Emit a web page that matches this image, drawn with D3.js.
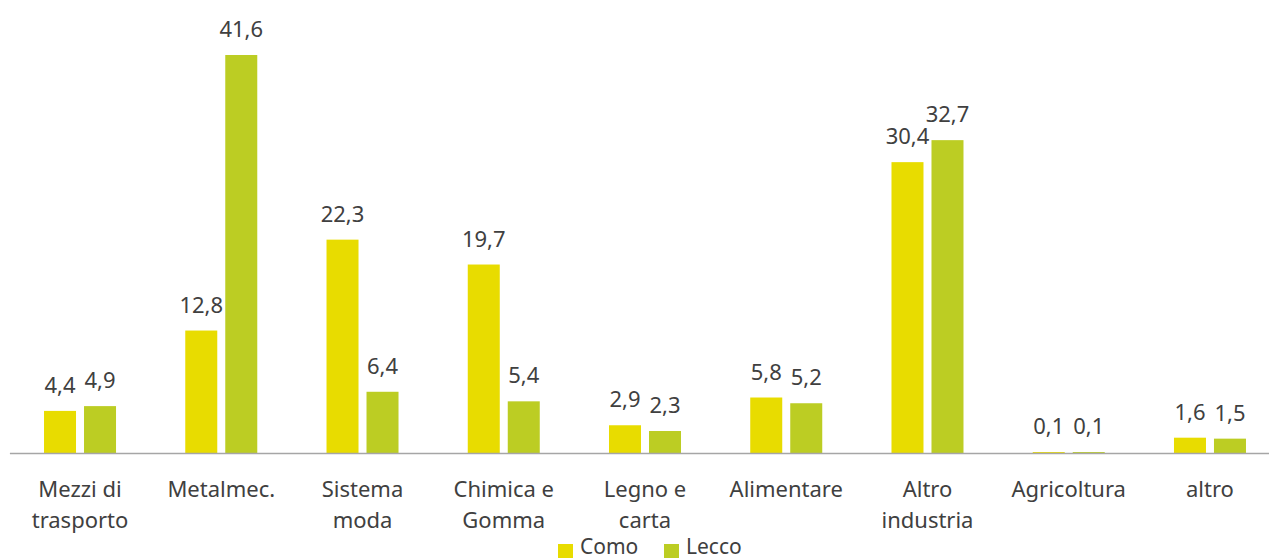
<!DOCTYPE html>
<html>
<head>
<meta charset="utf-8">
<script src="https://cdn.jsdelivr.net/npm/d3@7"></script>
<style>
  html, body { margin: 0; padding: 0; background: #fff; }
  svg { display: block; font-family: "Noto Sans", "Open Sans", sans-serif; }
</style>
</head>
<body>
<svg id="chart" width="1269" height="560"></svg>
<script>
const categories = [
  ["Mezzi di", "trasporto"],
  ["Metalmec."],
  ["Sistema", "moda"],
  ["Chimica e", "Gomma"],
  ["Legno e", "carta"],
  ["Alimentare"],
  ["Altro", "industria"],
  ["Agricoltura"],
  ["altro"]
];
const seriesNames = ["Como", "Lecco"];
const como  = [4.4, 12.8, 22.3, 19.7, 2.9, 5.8, 30.4, 0.1, 1.6];
const lecco = [4.9, 41.6, 6.4, 5.4, 2.3, 5.2, 32.7, 0.1, 1.5];
const colors = ["#e8dc00", "#bccd23"];

const svg = d3.select("#chart");
const baseY = 453;
const keys = categories.map((c, i) => i);

const x = d3.scaleBand().domain(keys).range([9.4, 1280.6]).padding(0);
const inner = d3.scaleBand().domain(seriesNames).range([x.bandwidth() / 2 - 36, x.bandwidth() / 2 + 36]).paddingInner(0.2);
const y = d3.scaleLinear().domain([0, 41.6]).range([baseY, 55]);

const rows = keys.map(i => ({ i, values: [como[i], lecco[i]] }));
const fmt = v => d3.format(".1f")(v).replace(".", ",");

const groups = svg.append("g").selectAll("g").data(rows).join("g")
  .attr("transform", d => `translate(${x(d.i)},0)`);

groups.selectAll("rect").data(d => d.values.map((v, k) => ({ v, k })))
  .join("rect")
  .attr("x", d => inner(seriesNames[d.k]))
  .attr("width", inner.bandwidth())
  .attr("y", d => y(d.v))
  .attr("height", d => baseY - y(d.v))
  .attr("fill", d => colors[d.k]);

groups.selectAll("text.val").data(d => d.values.map((v, k) => ({ v, k })))
  .join("text")
  .attr("class", "val")
  .attr("x", d => inner(seriesNames[d.k]) + inner.bandwidth() / 2)
  .attr("y", d => y(d.v) - 18)
  .attr("text-anchor", "middle")
  .attr("font-size", 22)
  .attr("fill", "#404040")
  .text(d => fmt(d.v));

// baseline axis
const axis = d3.axisBottom(x).tickSize(0).tickFormat("");
svg.append("g").attr("transform", `translate(0,${baseY})`).call(axis)
  .call(g => g.select(".domain").attr("stroke", "#a6a6a6").attr("stroke-width", 1.5));

// category labels
const catG = svg.append("g");
rows.forEach(d => {
  const t = catG.append("text")
    .attr("x", x(d.i) + x.bandwidth() / 2)
    .attr("y", 497)
    .attr("text-anchor", "middle")
    .attr("font-size", 22)
    .attr("fill", "#404040");
  categories[d.i].forEach((line, j) => {
    t.append("tspan").attr("x", x(d.i) + x.bandwidth() / 2).attr("dy", j === 0 ? 0 : 31).text(line);
  });
});

// legend
const legend = svg.append("g");
const legendX = [558, 664];
seriesNames.forEach((name, k) => {
  legend.append("rect").attr("x", legendX[k]).attr("y", 544).attr("width", 15).attr("height", 14).attr("fill", colors[k]);
  legend.append("text").attr("x", legendX[k] + 22).attr("y", 554).attr("font-size", 21).attr("fill", "#404040").text(name);
});
</script>
</body>
</html>
